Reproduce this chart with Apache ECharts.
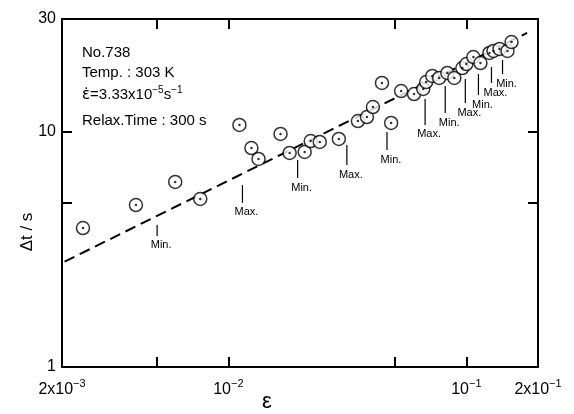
<!DOCTYPE html>
<html>
<head>
<meta charset="utf-8">
<script src="https://cdn.jsdelivr.net/npm/echarts@6/dist/echarts.min.js"></script>
<style>
html, body { margin: 0; padding: 0; background: #fff; }
#chartBox { width: 574px; height: 414px; }
</style>
</head>
<body>
<div id="chartBox"></div>
<script>
// measured points: strain and relaxation interval
var strain = [0.00245, 0.00409, 0.00598, 0.00762, 0.01113, 0.0125, 0.01339, 0.01657, 0.01809, 0.02093,
  0.02218, 0.02421, 0.02912, 0.03502, 0.03822, 0.0405, 0.0442, 0.0483, 0.0532, 0.0603,
  0.0659, 0.0678, 0.0719, 0.0769, 0.0832, 0.089, 0.0962, 0.1, 0.107, 0.1146,
  0.125, 0.13, 0.1378, 0.1489, 0.1548];
var dt = [3.89, 4.87, 6.10, 5.17, 10.65, 8.50, 7.64, 9.75, 8.10, 8.18,
  9.10, 9.02, 9.29, 11.07, 11.51, 12.69, 16.05, 10.86, 14.84, 14.41,
  15.14, 16.2, 17.19, 16.86, 17.70, 16.86, 18.58, 19.32, 20.69, 19.51,
  21.52, 21.95, 22.38, 21.95, 23.96];

// dashed line (slope ~0.5)
var fitStrain = [0.00205, 0.18];
var fitDt = [2.8, 26.2];

// Max./Min. markers
var annStrain = [0.00502, 0.01146, 0.01955, 0.03147, 0.0464, 0.0671, 0.0815, 0.099, 0.1124, 0.1275, 0.1419];
var annTop = [4.01, 5.92, 7.56, 8.76, 9.94, 13.72, 15.58, 16.69, 17.52, 18.76, 20.1];
var annBottom = [3.60, 4.97, 6.34, 7.20, 8.34, 10.65, 11.97, 13.20, 14.27, 16.05, 17.52];
var annText = ["Min.", "Max.", "Min.", "Max.", "Min.", "Max.", "Min.", "Max.", "Min.", "Max.", "Min."];

// axis ticks and labels
var xTickVals = [0.005, 0.01, 0.05, 0.1];
var xLabelVals = [0.002, 0.01, 0.1, 0.2];
var xLabelText = ["2x10{sup|−3}", "10{sup|−2}", "10{sup|−1}", "2x10{sup|−1}"];
var yTickVals = [5, 10];
var yLabelVals = [1, 10, 30];
var yLabelText = ["1", "10", "30"];

var lg = function (v) { return Math.log10(v); };
var FONT = "Liberation Sans";

function pick(vals, texts) {
  return function (v) {
    for (var i = 0; i < vals.length; i++) {
      if (Math.abs(lg(vals[i]) - v) < 1e-6) return texts[i];
    }
    return "";
  };
}

var chart = echarts.init(document.getElementById("chartBox"));

var lineStyle = { color: "#000", width: 2 };
var tickX = { show: true, inside: true, length: 10, lineStyle: { color: "#000", width: 2 }, customValues: xTickVals.map(lg) };
var tickY = { show: true, inside: true, length: 10, lineStyle: { color: "#000", width: 2 }, customValues: yTickVals.map(lg) };

var option = {
  animation: false,
  backgroundColor: "#fff",
  grid: { left: 62, right: 36, top: 19, bottom: 47 },
  xAxis: [
    {
      type: "value", position: "bottom",
      min: lg(0.002), max: lg(0.2),
      axisLine: { show: true, onZero: false, lineStyle: lineStyle },
      axisTick: tickX,
      splitLine: { show: false },
      axisLabel: {
        customValues: xLabelVals.map(lg),
        showMinLabel: true, showMaxLabel: true,
        formatter: pick(xLabelVals, xLabelText),
        margin: 11, color: "#000", fontSize: 16, fontFamily: FONT,
        rich: { sup: { fontSize: 11, fontFamily: FONT, color: "#000", padding: [0, 0, 12, 0] } }
      }
    },
    {
      type: "value", position: "top",
      min: lg(0.002), max: lg(0.2),
      axisLine: { show: true, onZero: false, lineStyle: lineStyle },
      axisTick: tickX,
      splitLine: { show: false },
      axisLabel: { show: false }
    }
  ],
  yAxis: [
    {
      type: "value", position: "left",
      min: lg(1), max: lg(30),
      axisLine: { show: true, onZero: false, lineStyle: lineStyle },
      axisTick: tickY,
      splitLine: { show: false },
      axisLabel: {
        customValues: yLabelVals.map(lg),
        showMinLabel: true, showMaxLabel: true,
        formatter: pick(yLabelVals, yLabelText),
        margin: 6, color: "#000", fontSize: 16, fontFamily: FONT
      }
    },
    {
      type: "value", position: "right",
      min: lg(1), max: lg(30),
      axisLine: { show: true, onZero: false, lineStyle: lineStyle },
      axisTick: tickY,
      splitLine: { show: false },
      axisLabel: { show: false }
    }
  ],
  graphic: [
    { type: "text", x: 82, y: 53, style: { text: "No.738", fontSize: 15, fontFamily: FONT, fill: "#000", verticalAlign: "middle" } },
    { type: "text", x: 82, y: 73, style: { text: "Temp. : 303 K", fontSize: 15, fontFamily: FONT, fill: "#000", verticalAlign: "middle" } },
    {
      type: "text", x: 82, y: 95,
      style: {
        text: "{e|ε̇}=3.33x10{sup|−5}s{sup|−1}", fontSize: 15, fontFamily: FONT, fill: "#000", verticalAlign: "middle",
        rich: {
          e: { fontSize: 15, fontFamily: "DejaVu Sans", fill: "#000" },
          sup: { fontSize: 10, fontFamily: FONT, fill: "#000", padding: [0, 0, 10, 0] }
        }
      }
    },
    { type: "text", x: 82, y: 121, style: { text: "Relax.Time : 300 s", fontSize: 15, fontFamily: FONT, fill: "#000", verticalAlign: "middle" } },
    { type: "text", x: 27, y: 232, rotation: Math.PI / 2, style: { text: "Δt / s", fontSize: 17, fontFamily: FONT, fill: "#000", align: "center", verticalAlign: "middle" } },
    { type: "text", x: 267, y: 402, style: { text: "ε", fontSize: 22, fontFamily: FONT, fill: "#000", align: "center", verticalAlign: "middle" } }
  ],
  series: [
    {
      name: "fit",
      type: "line",
      xAxisIndex: 0, yAxisIndex: 0,
      data: fitStrain.map(function (x, i) { return [lg(x), lg(fitDt[i])]; }),
      symbol: "none",
      silent: true,
      lineStyle: { color: "#000", width: 2, type: [11, 6] },
      z: 1
    },
    {
      name: "markers",
      type: "custom",
      xAxisIndex: 0, yAxisIndex: 0,
      data: annStrain.map(function (x, i) { return [lg(x), lg(annTop[i]), lg(annBottom[i])]; }),
      renderItem: function (params, api) {
        var p1 = api.coord([api.value(0), api.value(1)]);
        var p2 = api.coord([api.value(0), api.value(2)]);
        return {
          type: "group",
          children: [
            { type: "line", shape: { x1: p1[0], y1: p1[1], x2: p2[0], y2: p2[1] }, style: { stroke: "#000", lineWidth: 1.2 } },
            { type: "text", style: { text: annText[params.dataIndex], x: p2[0] + 4, y: p2[1] + 4, align: "center", verticalAlign: "top", fontSize: 11, fontFamily: FONT, fill: "#000" } }
          ]
        };
      },
      silent: true,
      z: 2
    },
    {
      name: "points",
      type: "scatter",
      xAxisIndex: 0, yAxisIndex: 0,
      data: strain.map(function (x, i) { return [lg(x), lg(dt[i])]; }),
      symbol: "circle",
      symbolSize: 13,
      itemStyle: { color: "#fff", borderColor: "#000", borderWidth: 1.5 },
      silent: true,
      z: 3
    },
    {
      name: "dots",
      type: "scatter",
      xAxisIndex: 0, yAxisIndex: 0,
      data: strain.map(function (x, i) { return [lg(x), lg(dt[i])]; }),
      symbol: "circle",
      symbolSize: 2.5,
      itemStyle: { color: "#000" },
      silent: true,
      z: 4
    }
  ]
};

chart.setOption(option);
</script>
</body>
</html>
